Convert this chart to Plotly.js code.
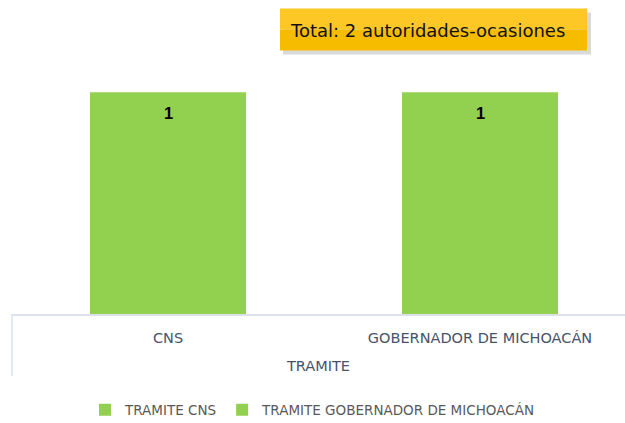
<!DOCTYPE html>
<html>
<head>
<meta charset="utf-8">
<script src="https://cdn.plot.ly/plotly-3.0.1.min.js"></script>
<style>html,body{margin:0;padding:0;background:#fff;}#chart{width:625px;height:423px;}</style>
</head>
<body>
<div id="chart"></div>
<script>
const categories = ["CNS", "GOBERNADOR DE MICHOACÁN"];
const seriesNames = ["TRAMITE CNS", "TRAMITE GOBERNADOR DE MICHOACÁN"];
const seriesValues = [1, 1];
const axisTitle = "TRAMITE";
const totalText = "Total: 2 autoridades-ocasiones";

const W = 625, Hh = 423;
const mL = 12, mR = 0, plotTop = 47.6, plotBottom = 314;
const mT = plotTop, mB = Hh - plotBottom;
const PW = W - mL - mR, PH = plotBottom - plotTop;
const px = x => (x - mL) / PW;
const py = y => (plotBottom - y) / PH;

const sans = "'DejaVu Sans', Verdana, sans-serif";

const traces = seriesNames.map((name, i) => ({
  type: "bar",
  name: name,
  x: [categories[i]],
  y: [seriesValues[i]],
  width: 0.5,
  marker: {color: "#92d050"},
  hoverinfo: "none"
}));

const valueLabels = categories.map((c, i) => ({
  x: c, y: seriesValues[i], xref: "x", yref: "y",
  text: "<b>" + String(seriesValues[i]) + "</b>", showarrow: false,
  yanchor: "middle", yshift: -21,
  font: {family: "Arial, 'Liberation Sans', sans-serif", size: 16.5, color: "#000"}
}));

const layout = {
  width: W, height: Hh,
  margin: {l: mL, r: mR, t: mT, b: mB, pad: 0},
  paper_bgcolor: "#fff", plot_bgcolor: "#fff",
  barmode: "overlay",
  showlegend: true,
  legend: {
    orientation: "h", x: 0.5, xanchor: "center", xref: "container",
    y: (Hh - 410) / Hh, yref: "container", yanchor: "middle",
    font: {family: sans, size: 13.5, color: "#595959"},
    itemwidth: 30, tracegroupgap: 0
  },
  xaxis: {
    type: "category",
    range: [-0.5, 1 + (W - 480) / 312],
    showline: true, linecolor: "#dde2ea", linewidth: 1.5,
    ticks: "", showgrid: false, zeroline: false,
    tickfont: {family: sans, size: 14.5, color: "#44546a"},
    ticklabelstandoff: 10,
    title: {text: axisTitle, standoff: 16, font: {family: sans, size: 14.5, color: "#44546a"}}
  },
  yaxis: {
    range: [0, 1.2], visible: false, showgrid: false, zeroline: false
  },
  shapes: [
    {type: "line", xref: "paper", yref: "paper", x0: 0, x1: 0, y0: 0, y1: py(376),
     line: {color: "#dde2ea", width: 1.5}},
    {type: "rect", xref: "paper", yref: "paper", x0: px(283), x1: px(591), y0: py(12), y1: py(54),
     fillcolor: "rgba(0,0,0,0.15)", line: {width: 0}},
    {type: "rect", xref: "paper", yref: "paper", x0: px(280), x1: px(587), y0: py(8), y1: py(29),
     fillcolor: "#fdc825", line: {width: 0}},
    {type: "rect", xref: "paper", yref: "paper", x0: px(280), x1: px(587), y0: py(29), y1: py(50),
     fillcolor: "#f6bd00", line: {width: 0}}
  ],
  annotations: valueLabels.concat([
    {xref: "paper", yref: "paper", x: px(427.5), y: py(30), xanchor: "center", yanchor: "middle",
     text: totalText, showarrow: false,
     font: {family: sans, size: 18, color: "#111"}}
  ])
};

Plotly.newPlot("chart", traces, layout, {displayModeBar: false, staticPlot: true});
</script>
</body>
</html>
